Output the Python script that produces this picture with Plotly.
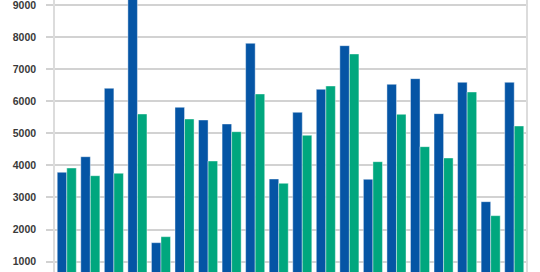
import plotly.graph_objects as go

categories = [str(i) for i in range(1, 21)]
series_blue = [3785, 4271, 6403, 9400, 1591, 5810, 5415, 5291, 7805, 3576,
               5654, 6371, 7732, 3566, 6527, 6704, 5613, 6589, 2869, 6589]
series_green = [3919, 3679, 3754, 5602, 1778, 5446, 4137, 5051, 6226, 3441,
                4937, 6475, 7473, 4116, 5592, 4584, 4231, 6288, 2433, 5228]
tick_values = [1000, 2000, 3000, 4000, 5000, 6000, 7000, 8000, 9000]
tick_labels = [str(v) for v in tick_values]

fig = go.Figure()
fig.add_trace(go.Bar(x=categories, y=series_blue, name="Series 1",
                     marker=dict(color="#0555A5", line=dict(color="rgba(255,255,255,0.7)", width=0.6))))
fig.add_trace(go.Bar(x=categories, y=series_green, name="Series 2",
                     marker=dict(color="#00A77E", line=dict(color="rgba(255,255,255,0.7)", width=0.6))))

fig.update_layout(
    width=540, height=272,
    margin=dict(l=55, r=14, t=0, b=0),
    barmode="group", bargap=0.19, bargroupgap=0,
    showlegend=False,
    plot_bgcolor="white", paper_bgcolor="white",
    font=dict(family="Liberation Sans, Arial, sans-serif", size=10.5, color="#3a3a3a", weight="bold"),
)
fig.update_xaxes(showticklabels=False, showgrid=False, zeroline=False,
                 showline=False, ticks="")
fig.update_yaxes(range=[677, 9156], tickvals=tick_values, ticktext=tick_labels,
                 showgrid=True, gridcolor="#d2d2d2", gridwidth=2,
                 zeroline=False, showline=True, linecolor="#dcdcdc", linewidth=1.5,
                 mirror=True, ticks="outside", ticklen=7, tickcolor="#d2d2d2", tickwidth=2,
                 ticklabelstandoff=8, ticklabeloverflow="allow")

fig.write_html("out.html")
